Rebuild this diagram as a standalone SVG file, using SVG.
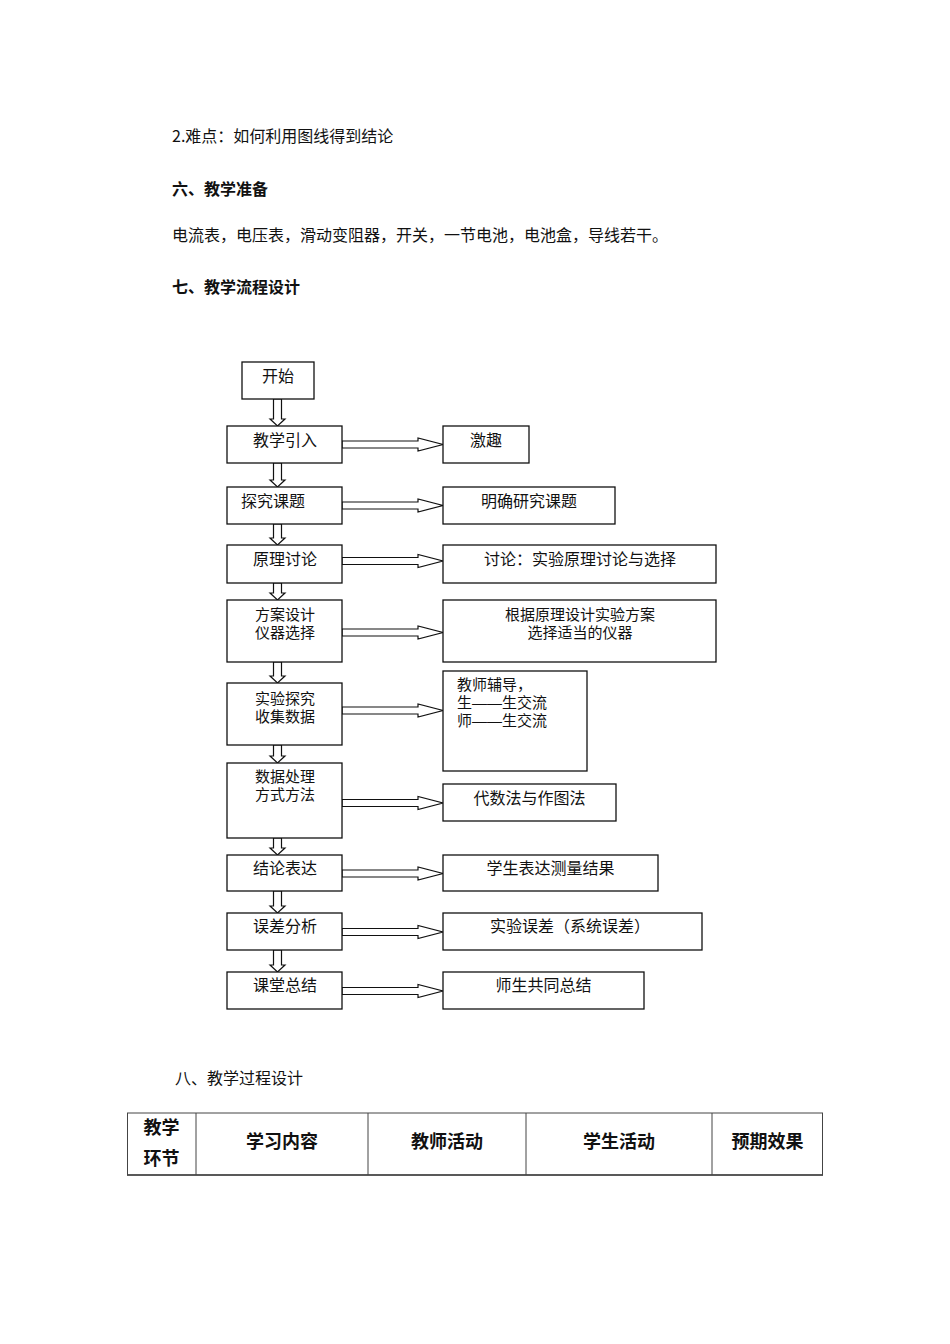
<svg xmlns="http://www.w3.org/2000/svg" xmlns:xlink="http://www.w3.org/1999/xlink" width="950" height="1344" viewBox="0 0 950 1344">
<style>
text{font-family:"Noto Sans CJK SC","Liberation Sans",sans-serif;fill:#111;}
.body{font-size:16px;}
.head{font-size:16px;font-weight:bold;}
.th{font-size:18px;font-weight:bold;text-anchor:middle;}
.nt{font-size:16px;}
.ml{font-size:15px;font-family:"Liberation Sans","Noto Sans CJK SC",sans-serif;}
.c{text-anchor:middle;}
.box{fill:#fff;stroke:#111;stroke-width:1.3;}
.arr{fill:#fff;stroke:#111;stroke-width:1.2;stroke-linejoin:miter;}
.tl{stroke:#444;stroke-width:1;fill:none;}
</style>
<defs>
<polygon id="ra" class="arr" points="0,-3.5 76,-3.5 76,-6.5 101,0 76,6.5 76,3.5 0,3.5"/>
</defs>
<rect width="950" height="1344" fill="#fff"/>

<g id="intro-text">
<text class="body" x="172" y="142">2.难点：如何利用图线得到结论</text>
<text class="head" x="172" y="195">六、教学准备</text>
<text class="body" x="172" y="241">电流表，电压表，滑动变阻器，开关，一节电池，电池盒，导线若干。</text>
<text class="head" x="172" y="293">七、教学流程设计</text>
</g>

<g id="connectors">
<polygon class="arr" points="273.5,399 281.5,399 281.5,419 285,419 277.5,426 270,419 273.5,419"/>
<polygon class="arr" points="273.5,463 281.5,463 281.5,480 285,480 277.5,487 270,480 273.5,480"/>
<polygon class="arr" points="273.5,524 281.5,524 281.5,538 285,538 277.5,545 270,538 273.5,538"/>
<polygon class="arr" points="273.5,583 281.5,583 281.5,593 285,593 277.5,600 270,593 273.5,593"/>
<polygon class="arr" points="273.5,662 281.5,662 281.5,676 285,676 277.5,683 270,676 273.5,676"/>
<polygon class="arr" points="273.5,745 281.5,745 281.5,756 285,756 277.5,763 270,756 273.5,756"/>
<polygon class="arr" points="273.5,838 281.5,838 281.5,848 285,848 277.5,855 270,848 273.5,848"/>
<polygon class="arr" points="273.5,891 281.5,891 281.5,906 285,906 277.5,913 270,906 273.5,906"/>
<polygon class="arr" points="273.5,950 281.5,950 281.5,965 285,965 277.5,972 270,965 273.5,965"/>
<use xlink:href="#ra" x="342" y="444.5"/>
<use xlink:href="#ra" x="342" y="505.5"/>
<use xlink:href="#ra" x="342" y="561"/>
<use xlink:href="#ra" x="342" y="632.5"/>
<use xlink:href="#ra" x="342" y="710.5"/>
<use xlink:href="#ra" x="342" y="803"/>
<use xlink:href="#ra" x="342" y="873.5"/>
<use xlink:href="#ra" x="342" y="932"/>
<use xlink:href="#ra" x="342" y="991"/>
</g>

<g id="n-start"><rect class="box" x="242" y="362" width="72" height="37"/><text class="nt c" x="278" y="382">开始</text></g>
<g id="n-intro"><rect class="box" x="227" y="426" width="115" height="37"/><text class="nt c" x="285" y="446">教学引入</text></g>
<g id="n-topic"><rect class="box" x="227" y="487" width="115" height="37"/><text class="nt" x="241" y="507">探究课题</text></g>
<g id="n-principle"><rect class="box" x="227" y="545" width="115" height="38"/><text class="nt c" x="285" y="565">原理讨论</text></g>
<g id="n-plan"><rect class="box" x="227" y="600" width="115" height="62"/><text class="ml c" x="285" y="620">方案设计</text><text class="ml c" x="285" y="638">仪器选择</text></g>
<g id="n-experiment"><rect class="box" x="227" y="683" width="115" height="62"/><text class="ml c" x="285" y="704">实验探究</text><text class="ml c" x="285" y="722">收集数据</text></g>
<g id="n-data"><rect class="box" x="227" y="763" width="115" height="75"/><text class="ml c" x="285" y="782">数据处理</text><text class="ml c" x="285" y="800">方式方法</text></g>
<g id="n-conclusion"><rect class="box" x="227" y="855" width="115" height="36"/><text class="nt c" x="285" y="874">结论表达</text></g>
<g id="n-error"><rect class="box" x="227" y="913" width="115" height="37"/><text class="nt c" x="285" y="932">误差分析</text></g>
<g id="n-summary"><rect class="box" x="227" y="972" width="115" height="37"/><text class="nt c" x="285" y="991">课堂总结</text></g>

<g id="r-interest"><rect class="box" x="443" y="426" width="86" height="37"/><text class="nt c" x="486" y="446">激趣</text></g>
<g id="r-topic"><rect class="box" x="443" y="487" width="172" height="37"/><text class="nt c" x="529" y="507">明确研究课题</text></g>
<g id="r-principle"><rect class="box" x="443" y="545" width="273" height="38"/><text class="nt c" x="580" y="565">讨论：实验原理讨论与选择</text></g>
<g id="r-plan"><rect class="box" x="443" y="600" width="273" height="62"/><text class="ml c" x="580" y="620">根据原理设计实验方案</text><text class="ml c" x="580" y="638">选择适当的仪器</text></g>
<g id="r-experiment"><rect class="box" x="443" y="671" width="144" height="100"/><text class="ml" x="457" y="690">教师辅导，</text><text class="ml" x="457" y="708">生——生交流</text><text class="ml" x="457" y="726">师——生交流</text></g>
<g id="r-data"><rect class="box" x="443" y="784" width="173" height="37"/><text class="nt c" x="529.5" y="804">代数法与作图法</text></g>
<g id="r-conclusion"><rect class="box" x="443" y="855" width="215" height="36"/><text class="nt c" x="550.5" y="874">学生表达测量结果</text></g>
<g id="r-error"><rect class="box" x="443" y="913" width="259" height="37"/><text class="nt c" x="570" y="932">实验误差（系统误差）</text></g>
<g id="r-summary"><rect class="box" x="443" y="972" width="201" height="37"/><text class="nt c" x="543.5" y="991">师生共同总结</text></g>

<g id="section8">
<text class="body" x="175" y="1084">八、教学过程设计</text>
</g>

<g id="table">
<line class="tl" x1="127" y1="1113" x2="823" y2="1113"/>
<line x1="127" y1="1175" x2="823" y2="1175" stroke="#222" stroke-width="1.3"/>
<line class="tl" x1="127.5" y1="1113" x2="127.5" y2="1175"/>
<line class="tl" x1="196" y1="1113" x2="196" y2="1175"/>
<line class="tl" x1="368" y1="1113" x2="368" y2="1175"/>
<line class="tl" x1="526" y1="1113" x2="526" y2="1175"/>
<line class="tl" x1="712" y1="1113" x2="712" y2="1175"/>
<line class="tl" x1="822.5" y1="1113" x2="822.5" y2="1175"/>
<text class="th" x="161.5" y="1134">教学</text>
<text class="th" x="161.5" y="1165">环节</text>
<text class="th" x="282" y="1148">学习内容</text>
<text class="th" x="447" y="1148">教师活动</text>
<text class="th" x="619" y="1148">学生活动</text>
<text class="th" x="767.5" y="1148">预期效果</text>
</g>
</svg>
